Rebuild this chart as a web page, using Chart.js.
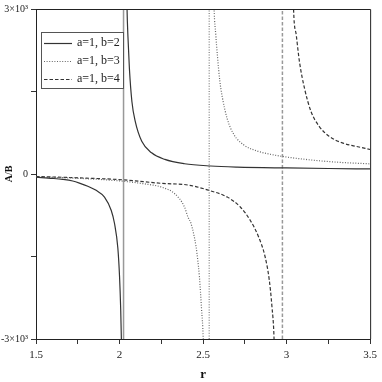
<!DOCTYPE html>
<html>
<head>
<meta charset="utf-8">
<script src="https://cdn.jsdelivr.net/npm/chart.js@4/dist/chart.umd.min.js"></script>
<style>
  body { margin: 0; background: #fff; }
  canvas { display: block; }
</style>
</head>
<body>
<canvas id="chart" width="382" height="382"></canvas>
<script>
// a=1, b=2 (solid): branch left of the pole, branch right of it, pole position
const solidLeftR = [1.5, 1.6, 1.66, 1.72, 1.76, 1.81, 1.86, 1.91, 1.95, 1.97, 1.99, 2.0, 2.007, 2.011, 2.0135];
const solidLeftV = [-58, -80, -98, -128, -165, -222, -297, -420, -660, -900, -1350, -1860, -2460, -3000, -3600];
const solidRightR = [2.043, 2.045, 2.05, 2.059, 2.074, 2.094, 2.133, 2.192, 2.271, 2.389, 2.546, 2.704, 3.0, 3.25, 3.5];
const solidRightV = [3400, 2994, 2524, 1921, 1319, 958, 596, 385, 265, 186, 145, 126, 110, 100, 92];
const solidPole = 2.024;

// a=1, b=3 (dotted)
const dottedLeftR = [1.5, 1.8, 2.015, 2.15, 2.251, 2.33, 2.389, 2.409, 2.428, 2.458, 2.468, 2.478, 2.491, 2.501, 2.504];
const dottedLeftV = [-52, -85, -130, -180, -238, -358, -600, -780, -900, -1320, -1560, -1860, -2460, -3000, -3400];
const dottedRightR = [2.563, 2.566, 2.576, 2.586, 2.6, 2.615, 2.645, 2.684, 2.743, 2.822, 2.9, 2.975, 3.1, 3.3, 3.5];
const dottedRightV = [3400, 3000, 2533, 2150, 1700, 1400, 1000, 720, 530, 420, 360, 320, 270, 215, 185];
const dottedPole = 2.537;

// a=1, b=4 (dashed)
const dashedLeftR = [1.5, 1.8, 2.015, 2.251, 2.409, 2.536, 2.645, 2.723, 2.782, 2.832, 2.871, 2.896, 2.912, 2.925, 2.928];
const dashedLeftV = [-45, -75, -105, -170, -200, -298, -420, -600, -840, -1140, -1500, -1920, -2400, -3000, -3400];
const dashedRightR = [3.039, 3.042, 3.058, 3.077, 3.107, 3.146, 3.195, 3.254, 3.333, 3.411, 3.5];
const dashedRightV = [3400, 2976, 2524, 2042, 1560, 1138, 867, 687, 566, 506, 446];
const dashedPole = 2.975;

const seriesLabels = ['a=1, b=2', 'a=1, b=3', 'a=1, b=4'];
const yTickLabels = { '-3000': '-3×10³', '0': '0', '3000': '3×10³' };
const xLabelledTicks = [1.5, 2, 2.5, 3, 3.5];
const yMin = -3000, yMax = 3000;

const serif = '"Liberation Serif", "DejaVu Serif", serif';

const styles = [
  { color: '#333', dash: [] },
  { color: '#666', dash: [1, 1.6] },
  { color: '#333', dash: [3.5, 2] }
];

function toPoints(rs, vs) {
  return rs.map((r, i) => ({ x: r, y: vs[i] }));
}

function branch(rs, vs, st) {
  return {
    data: toPoints(rs, vs),
    borderColor: st.color,
    borderWidth: 1.2,
    borderDash: st.dash,
    cubicInterpolationMode: 'monotone'
  };
}

// the near-vertical jump across each pole
function jump(pole, st) {
  return {
    data: [{ x: pole, y: yMin }, { x: pole, y: yMax }],
    borderColor: '#999',
    borderWidth: 1.5,
    borderDash: st.dash
  };
}

const datasets = [
  branch(solidLeftR, solidLeftV, styles[0]),
  branch(solidRightR, solidRightV, styles[0]),
  jump(solidPole, styles[0]),
  branch(dottedLeftR, dottedLeftV, styles[1]),
  branch(dottedRightR, dottedRightV, styles[1]),
  jump(dottedPole, styles[1]),
  branch(dashedLeftR, dashedLeftV, styles[2]),
  branch(dashedRightR, dashedRightV, styles[2]),
  jump(dashedPole, styles[2])
];

// top/right frame lines
const framePlugin = {
  id: 'frame',
  afterDraw(chart) {
    const { ctx, chartArea: a } = chart;
    ctx.save();
    ctx.strokeStyle = '#222';
    ctx.lineWidth = 1;
    ctx.beginPath();
    ctx.moveTo(a.left, a.top + 0.5);
    ctx.lineTo(a.right + 0.5, a.top + 0.5);
    ctx.lineTo(a.right + 0.5, a.bottom);
    ctx.stroke();
    ctx.restore();
  }
};

// boxed legend in the upper left of the plot
const boxLegend = {
  id: 'boxLegend',
  afterDraw(chart) {
    const { ctx } = chart;
    const left = 41, top = 32, w = 82, h = 56;
    ctx.save();
    ctx.fillStyle = '#fff';
    ctx.fillRect(left, top, w, h);
    ctx.strokeStyle = '#555';
    ctx.lineWidth = 1;
    ctx.strokeRect(left + 0.5, top + 0.5, w, h);
    ctx.font = '12px ' + serif;
    ctx.textBaseline = 'middle';
    seriesLabels.forEach((label, i) => {
      const y = top + 11 + i * 18;
      ctx.strokeStyle = styles[i].color;
      ctx.lineWidth = 1.2;
      ctx.setLineDash(styles[i].dash);
      ctx.beginPath();
      ctx.moveTo(left + 3, y + 0.5);
      ctx.lineTo(left + 31, y + 0.5);
      ctx.stroke();
      ctx.setLineDash([]);
      ctx.fillStyle = '#222';
      ctx.fillText(label, left + 36, y);
    });
    ctx.restore();
  }
};

new Chart(document.getElementById('chart'), {
  type: 'line',
  data: { datasets },
  options: {
    responsive: false,
    animation: false,
    devicePixelRatio: 1,
    layout: { padding: { top: 8, right: 7, left: 0, bottom: 0 } },
    elements: {
      point: { radius: 0 },
      line: { fill: false }
    },
    plugins: {
      legend: { display: false },
      tooltip: { enabled: false }
    },
    scales: {
      x: {
        type: 'linear',
        min: 1.5,
        max: 3.5,
        afterFit: s => { s.height = 43; },
        grid: { drawOnChartArea: false, drawTicks: true, tickLength: 5, color: '#333' },
        border: { display: true, color: '#222', width: 1 },
        ticks: {
          stepSize: 0.25,
          padding: 5,
          maxRotation: 0,
          autoSkip: false,
          color: '#222',
          font: { family: serif, size: 11 },
          callback: v => xLabelledTicks.some(t => Math.abs(t - v) < 1e-6) ? String(v) : ''
        },
        title: {
          display: true,
          text: 'r',
          color: '#111',
          padding: { top: 0, bottom: 0 },
          font: { family: serif, size: 13, weight: 'bold' }
        }
      },
      y: {
        min: yMin,
        max: yMax,
        afterFit: s => { s.width = 36; },
        grid: { drawOnChartArea: false, drawTicks: true, tickLength: 5, color: '#333' },
        border: { display: true, color: '#222', width: 1 },
        ticks: {
          stepSize: 1500,
          padding: 3,
          color: '#222',
          font: { family: serif, size: 10 },
          callback: v => yTickLabels[String(v)] !== undefined ? yTickLabels[String(v)] : ''
        },
        title: {
          display: true,
          text: 'A/B',
          color: '#111',
          padding: { top: 3, bottom: 0 },
          font: { family: serif, size: 10, weight: 'bold' }
        }
      }
    }
  },
  plugins: [framePlugin, boxLegend]
});
</script>
</body>
</html>
